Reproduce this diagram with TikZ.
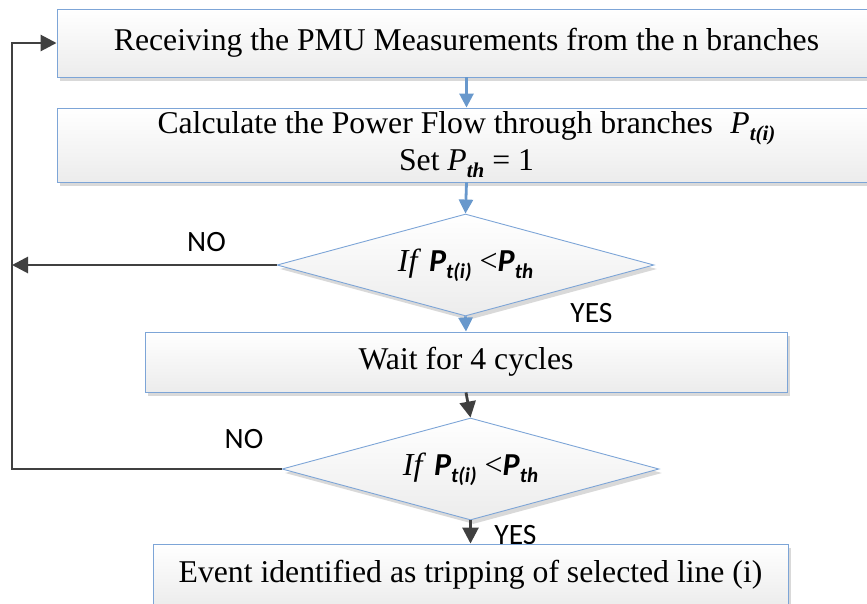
\documentclass[tikz,border=0pt]{standalone}
\usepackage{fontspec}
\setmainfont{Liberation Serif}
\newfontfamily\lblfont{Carlito}
\usetikzlibrary{shapes.geometric,arrows.meta,shadows}

\definecolor{edgeblue}{RGB}{125,165,215}
\definecolor{flowblue}{RGB}{104,152,204}
\definecolor{flowgray}{RGB}{64,64,64}

% bold italic sans symbol, as used in the decision tests
\newcommand{\symsf}[1]{{\lblfont\bfseries\itshape #1}}
% lowered subscript, sans bold italic
\newcommand{\subsf}[1]{\raisebox{-7pt}{\fontsize{21}{21}\selectfont\symsf{#1}}}
% lowered subscript, serif bold italic
\newcommand{\subrm}[1]{\raisebox{-7pt}{\fontsize{21}{21}\selectfont\bfseries\itshape #1}}

\begin{document}
\begin{tikzpicture}[x=1pt,y=-1pt,
  procbox/.style={rectangle, draw=edgeblue, line width=0.9pt,
    top color=white, bottom color=gray!15,
    drop shadow={shadow xshift=3pt, shadow yshift=-4pt, fill=gray!30, opacity=1},
    inner sep=0pt, align=center, font=\fontsize{31.7}{37}\selectfont},
  decision/.style={diamond, draw=edgeblue, line width=0.9pt,
    top color=white, bottom color=gray!15,
    drop shadow={shadow xshift=3pt, shadow yshift=-4pt, fill=gray!30, opacity=1},
    minimum width=377pt, minimum height=102pt, shape aspect=3.7, inner sep=0pt,
    font=\fontsize{32}{36}\selectfont},
  lbl/.style={inner sep=0pt, font=\lblfont\fontsize{29.5}{30}\selectfont},
  blueflow/.style={draw=flowblue, line width=2.8pt, -{Triangle[width=14pt,length=14pt]}},
  grayflow/.style={draw=flowgray, line width=2.8pt, -{Triangle[width=16pt,length=16pt]}},
]
\useasboundingbox (0,0) rectangle (867,603);
\clip (0,0) rectangle (867,603);

% branch labels (drawn first, the last box covers the foot of YES)
\node[lbl] (no1) at (206.5,242.5) {NO};
\node[lbl] (yes1) at (591.5,313) {YES};
\node[lbl] (no2) at (244,439.5) {NO};
\node[lbl] (yes2) at (515.5,535) {YES};

% process steps and decisions
\node[procbox, minimum width=819pt, minimum height=68pt] (recv) at (466.5,43)
  {Receiving the PMU Measurements from the n branches};
\node[procbox, minimum width=819pt, minimum height=74pt] (calc) at (466.5,145)
  {Calculate the Power Flow through branches\hspace{0.3em} \textit{P}\subrm{t(i)}\\
   Set \textit{P}\subrm{th} = 1};
\node[decision] (test1) at (465.5,265)
  {\textit{If} \symsf{P}\subsf{t(i)} <\symsf{P}\subsf{th}};
\node[procbox, minimum width=642pt, minimum height=60pt] (wait) at (466,362)
  {Wait for 4 cycles};
\node[decision] (test2) at (470.5,469)
  {\textit{If} \symsf{P}\subsf{t(i)} <\symsf{P}\subsf{th}};
\node[procbox, minimum width=635pt, minimum height=62pt] (trip) at (470.5,575)
  {Event identified as tripping of selected line (i)};

% main flow
\draw[blueflow] (recv.south) -- (calc.north);
\draw[blueflow] (calc.south) -- (test1.north);
\draw[blueflow] (test1.south) -- (wait.north);
\draw[grayflow] (wait.south) -- (test2.north);
\draw[grayflow] (test2.south) -- (trip.north);

% NO branches back to the start
\coordinate (back1) at (12,265);
\coordinate (back2) at (12,469);
\draw[grayflow] (test1.west) -- (back1);
\draw[grayflow] (test2.west) -- (back2) |- (recv.west);
\end{tikzpicture}
\end{document}
